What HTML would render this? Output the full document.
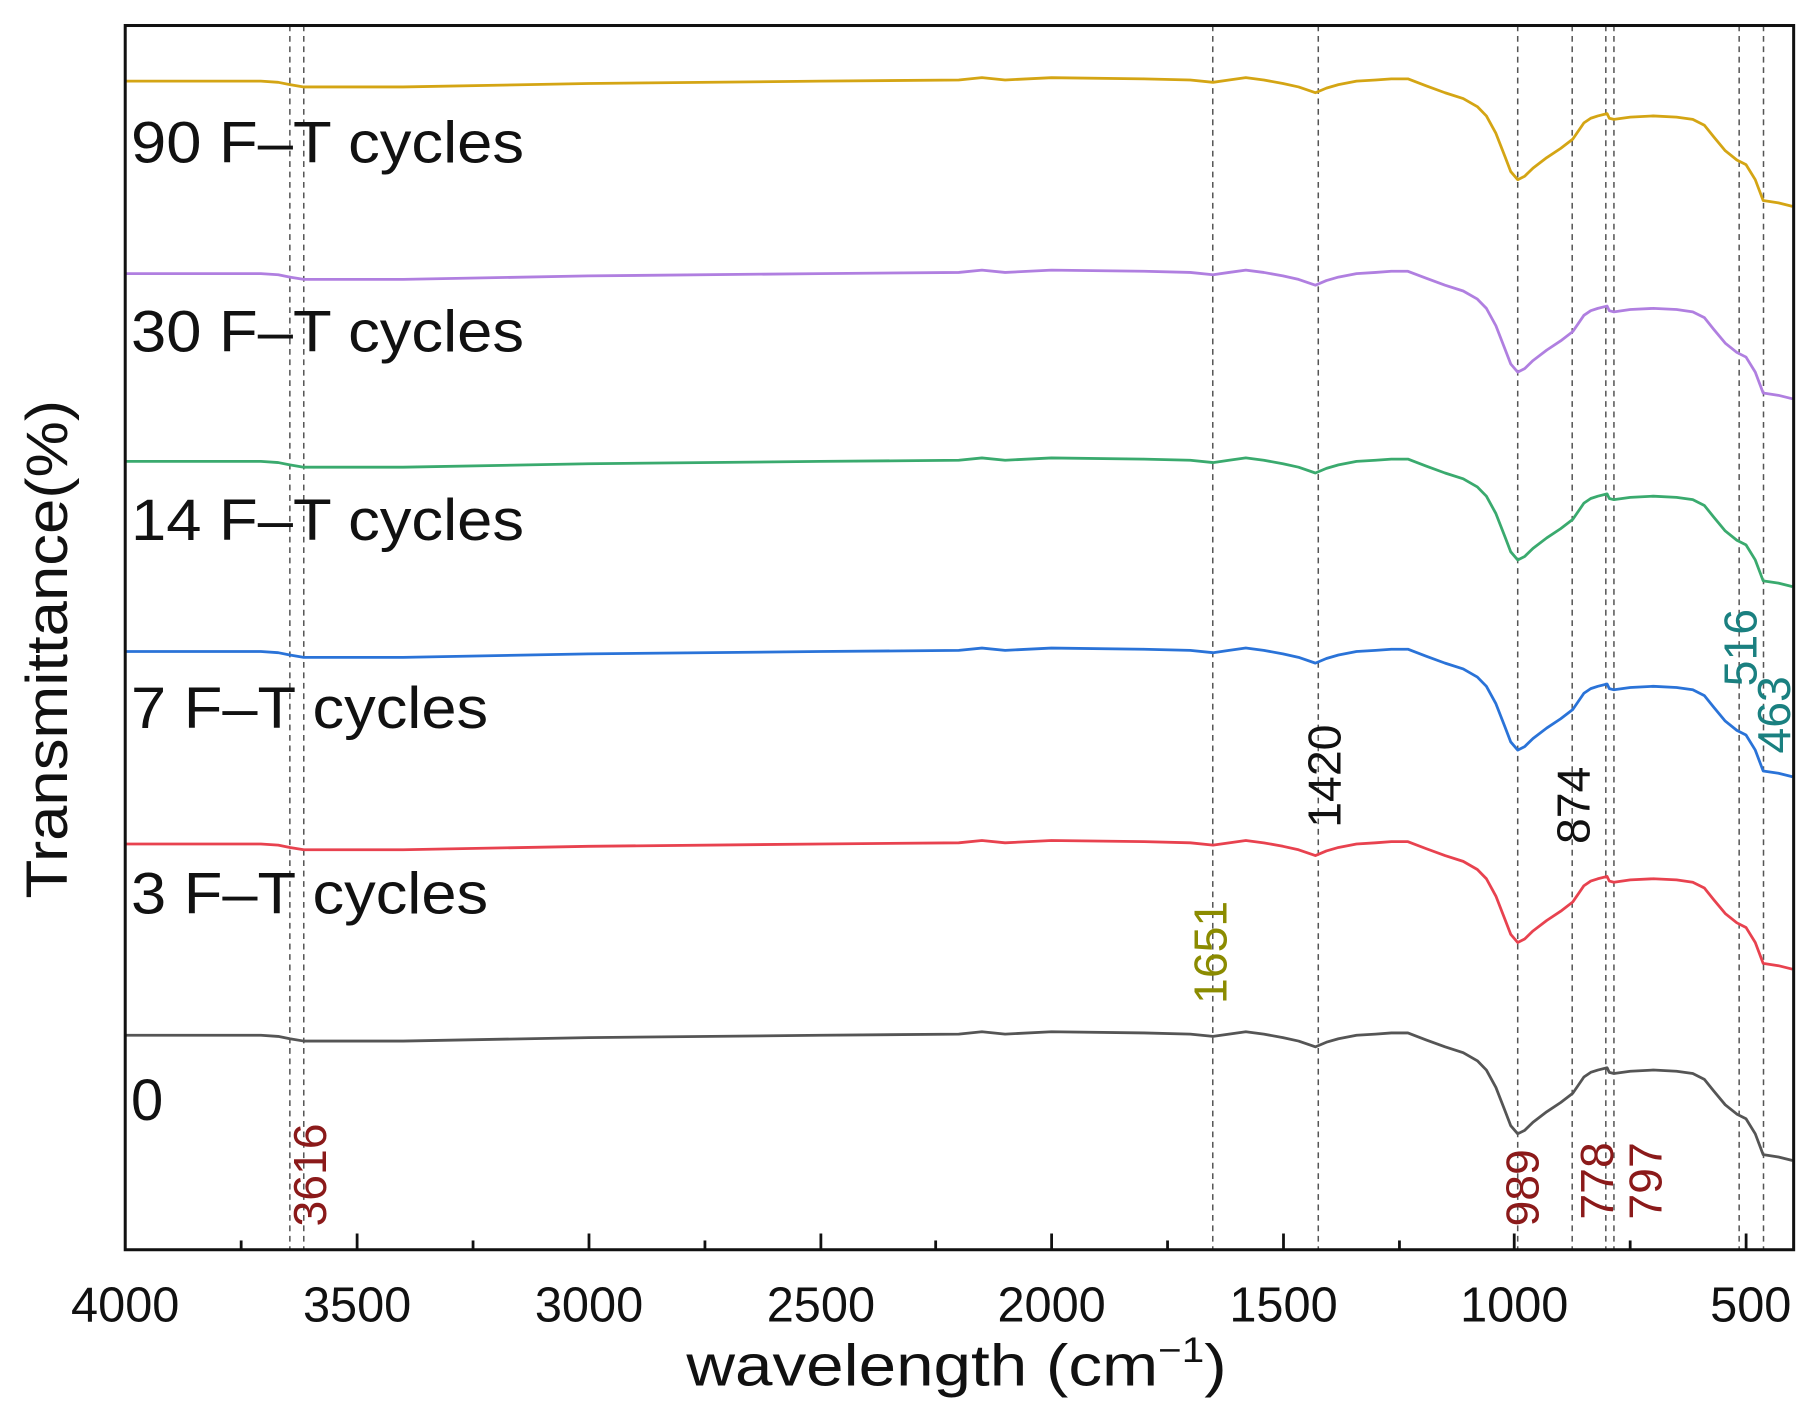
<!DOCTYPE html>
<html><head><meta charset="utf-8"><style>
html,body{margin:0;padding:0;background:#fff;}
svg{display:block;}
text{font-family:"Liberation Sans","DejaVu Sans",sans-serif;}
</style></head><body>
<svg width="1818" height="1419" viewBox="0 0 1568 1224" preserveAspectRatio="none" xmlns="http://www.w3.org/2000/svg">
<defs>
<polyline id="c" fill="none" stroke-width="2.4" stroke-linejoin="round" points="108,0 225,0 240,1 250,3 262,5 347.6,5 507.4,2 707.1,0 826.9,-1 846.9,-3 866.9,-1 906.8,-3 986.7,-2 1026.6,-1 1046.2,1 1060,-1 1074.5,-3 1090,-1 1106.5,2 1120,5 1134.5,10 1144,6 1154.4,3 1170,0 1186.4,-1 1200,-2 1214.3,-2 1230,4 1246.3,10 1262,15 1274.2,22 1282,30 1290.2,45 1298,65 1303,78 1309,85 1315,82 1322.2,75 1334,66 1346.1,58 1356.5,50 1366.1,36 1372,32 1378.1,30 1386.1,28 1388,32 1392,33 1406.1,31 1426,30 1446,31 1460,33 1470,38 1478,48 1488,60 1498,68 1505.9,72 1513.9,85 1520.7,103 1533.9,105 1546,108"/>
</defs>
<g stroke="#555" stroke-width="1.3" stroke-dasharray="5,4">
<line x1="250" y1="22" x2="250" y2="1078"/>
<line x1="262" y1="22" x2="262" y2="1078"/>
<line x1="1046" y1="22" x2="1046" y2="1078"/>
<line x1="1137" y1="22" x2="1137" y2="1078"/>
<line x1="1309" y1="22" x2="1309" y2="1078"/>
<line x1="1356" y1="22" x2="1356" y2="1078"/>
<line x1="1385" y1="22" x2="1385" y2="1078"/>
<line x1="1392" y1="22" x2="1392" y2="1078"/>
<line x1="1500" y1="22" x2="1500" y2="1078"/>
<line x1="1521" y1="22" x2="1521" y2="1078"/>
</g>
<use href="#c" stroke="#d4a514" transform="translate(0,70)"/>
<use href="#c" stroke="#b07fe0" transform="translate(0,236)"/>
<use href="#c" stroke="#3aaa6e" transform="translate(0,398)"/>
<use href="#c" stroke="#2a73d8" transform="translate(0,562)"/>
<use href="#c" stroke="#e8424f" transform="translate(0,728)"/>
<use href="#c" stroke="#555555" transform="translate(0,893)"/>
<rect x="108" y="22" width="1439" height="1056" fill="none" stroke="#111" stroke-width="2.6"/>
<g stroke="#111" stroke-width="2.4">
<line x1="308" y1="1078" x2="308" y2="1064"/><line x1="508" y1="1078" x2="508" y2="1064"/>
<line x1="708" y1="1078" x2="708" y2="1064"/><line x1="907" y1="1078" x2="907" y2="1064"/>
<line x1="1107" y1="1078" x2="1107" y2="1064"/><line x1="1306" y1="1078" x2="1306" y2="1064"/>
<line x1="1506" y1="1078" x2="1506" y2="1064"/>
<line x1="208" y1="1078" x2="208" y2="1070"/><line x1="408" y1="1078" x2="408" y2="1070"/>
<line x1="608" y1="1078" x2="608" y2="1070"/><line x1="807" y1="1078" x2="807" y2="1070"/>
<line x1="1007" y1="1078" x2="1007" y2="1070"/><line x1="1207" y1="1078" x2="1207" y2="1070"/>
<line x1="1406" y1="1078" x2="1406" y2="1070"/>
</g>
<g font-size="42" fill="#111" text-anchor="middle">
<text x="108" y="1140">4000</text><text x="308" y="1140">3500</text><text x="508" y="1140">3000</text>
<text x="708" y="1140">2500</text><text x="907" y="1140">2000</text><text x="1107" y="1140">1500</text>
<text x="1306" y="1140">1000</text><text x="1510" y="1140">500</text>
</g>
<text x="592" y="1195" font-size="50" fill="#111" textLength="466" lengthAdjust="spacingAndGlyphs">wavelength (cm<tspan font-size="30" dy="-20">−1</tspan><tspan dy="20">)</tspan></text>
<text transform="translate(58,775) rotate(-90)" font-size="50" fill="#111" textLength="430" lengthAdjust="spacingAndGlyphs">Transmittance(%)</text>
<g font-size="50" fill="#111">
<text x="113" y="140" textLength="339" lengthAdjust="spacingAndGlyphs">90 F–T cycles</text>
<text x="113" y="303" textLength="339" lengthAdjust="spacingAndGlyphs">30 F–T cycles</text>
<text x="113" y="466" textLength="339" lengthAdjust="spacingAndGlyphs">14 F–T cycles</text>
<text x="113" y="628" textLength="308" lengthAdjust="spacingAndGlyphs">7 F–T cycles</text>
<text x="113" y="788" textLength="308" lengthAdjust="spacingAndGlyphs">3 F–T cycles</text>
<text x="113" y="966">0</text>
</g>
<g font-size="40">
<text transform="translate(281,1058) rotate(-90)" fill="#8b1a1a">3616</text>
<text transform="translate(1058,866) rotate(-90)" fill="#8b8b00">1651</text>
<text transform="translate(1156,714) rotate(-90)" fill="#111">1420</text>
<text transform="translate(1371,728) rotate(-90)" fill="#111">874</text>
<text transform="translate(1327,1058) rotate(-90)" fill="#8b1a1a">989</text>
<text transform="translate(1391,1052) rotate(-90)" fill="#8b1a1a">778</text>
<text transform="translate(1433,1052) rotate(-90)" fill="#8b1a1a">797</text>
<text transform="translate(1515,592) rotate(-90)" fill="#1a8080">516</text>
<text transform="translate(1544,650) rotate(-90)" fill="#1a8080">463</text>
</g>
</svg>
</body></html>
